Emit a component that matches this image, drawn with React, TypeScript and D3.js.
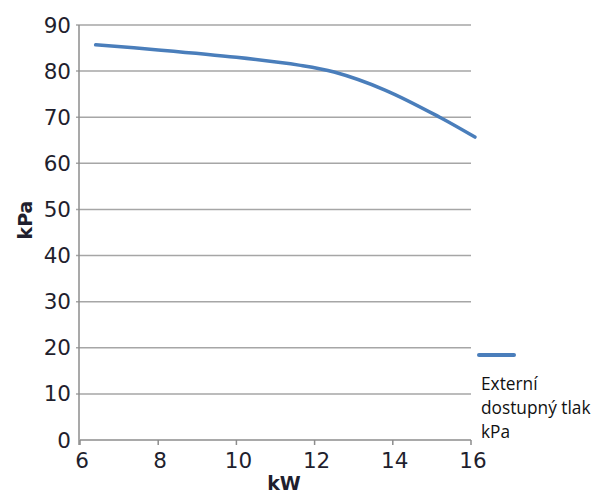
import React from "react";
import * as d3 from "d3";

const kw = [6.4, 8, 10, 11.6, 12.5, 13.8, 15.2, 16.1];
const kpa = [85.7, 84.6, 83.0, 81.3, 79.8, 75.9, 70.0, 65.7];
const xTicks = [6, 8, 10, 12, 14, 16];
const yTicks = [0, 10, 20, 30, 40, 50, 60, 70, 80, 90];
const seriesName = ["Externí", "dostupný tlak", "kPa"];
const xTitle = "kW";
const yTitle = "kPa";

export default function App() {
  const W = 603, H = 497;
  const x = d3.scaleLinear().domain([6, 16]).range([80, 471]);
  const y = d3.scaleLinear().domain([0, 90]).range([440, 25]);
  const pts: [number, number][] = kw.map((k, i) => [k, kpa[i]]);
  const line = d3
    .line<[number, number]>()
    .x((d) => x(d[0]))
    .y((d) => y(d[1]))
    .curve(d3.curveCatmullRom.alpha(0.5));
  const font = "'DejaVu Sans', sans-serif";
  const blue = "#4a7ebb";
  return (
    <svg
      width={W}
      height={H}
      style={{ position: "absolute", left: 0, top: 0, background: "#fff" }}
    >
      {yTicks.map((t) => (
        <line
          key={"g" + t}
          x1={t === 0 ? x(6) : 76}
          x2={471}
          y1={y(t)}
          y2={y(t)}
          stroke={t === 0 ? "#8c8c8c" : "#a6a6a6"}
          strokeWidth={1.5}
        />
      ))}
      <line x1={x(6) - 1} x2={x(6) - 1} y1={y(90)} y2={y(0) + 5} stroke="#8c8c8c" strokeWidth={1.5} />
      {xTicks.map((t) => (
        <line key={"xt" + t} x1={x(t)} x2={x(t)} y1={y(0)} y2={y(0) + 5} stroke="#8c8c8c" strokeWidth={1.5} />
      ))}
      {yTicks.map((t) => (
        <text
          key={"yl" + t}
          x={71}
          y={y(t) + 7.5}
          textAnchor="end"
          fontFamily={font}
          fontSize={21.5}
          fill="#1f1f2e"
        >
          {t}
        </text>
      ))}
      {xTicks.map((t) => (
        <text
          key={"xl" + t}
          x={x(t) + 2}
          y={468}
          textAnchor="middle"
          fontFamily={font}
          fontSize={21.5}
          fill="#1f1f2e"
        >
          {t}
        </text>
      ))}
      <path d={line(pts) || ""} fill="none" stroke={blue} strokeWidth={3.5} strokeLinecap="round" />
      <text
        x={284}
        y={490}
        textAnchor="middle"
        fontFamily={font}
        fontWeight="bold"
        fontSize={19}
        fill="#1f1f2e"
      >
        {xTitle}
      </text>
      <text
        transform="translate(32,220) rotate(-90)"
        textAnchor="middle"
        fontFamily={font}
        fontWeight="bold"
        fontSize={19}
        fill="#1f1f2e"
      >
        {yTitle}
      </text>
      <line x1={479} x2={514} y1={355} y2={355} stroke={blue} strokeWidth={4} strokeLinecap="round" />
      {seriesName.map((s, i) => (
        <text
          key={"lg" + i}
          x={481}
          y={390 + i * 24}
          fontFamily="'Open Sans', sans-serif"
          fontSize={17.3}
          fill="#111"
        >
          {s}
        </text>
      ))}
    </svg>
  );
}
